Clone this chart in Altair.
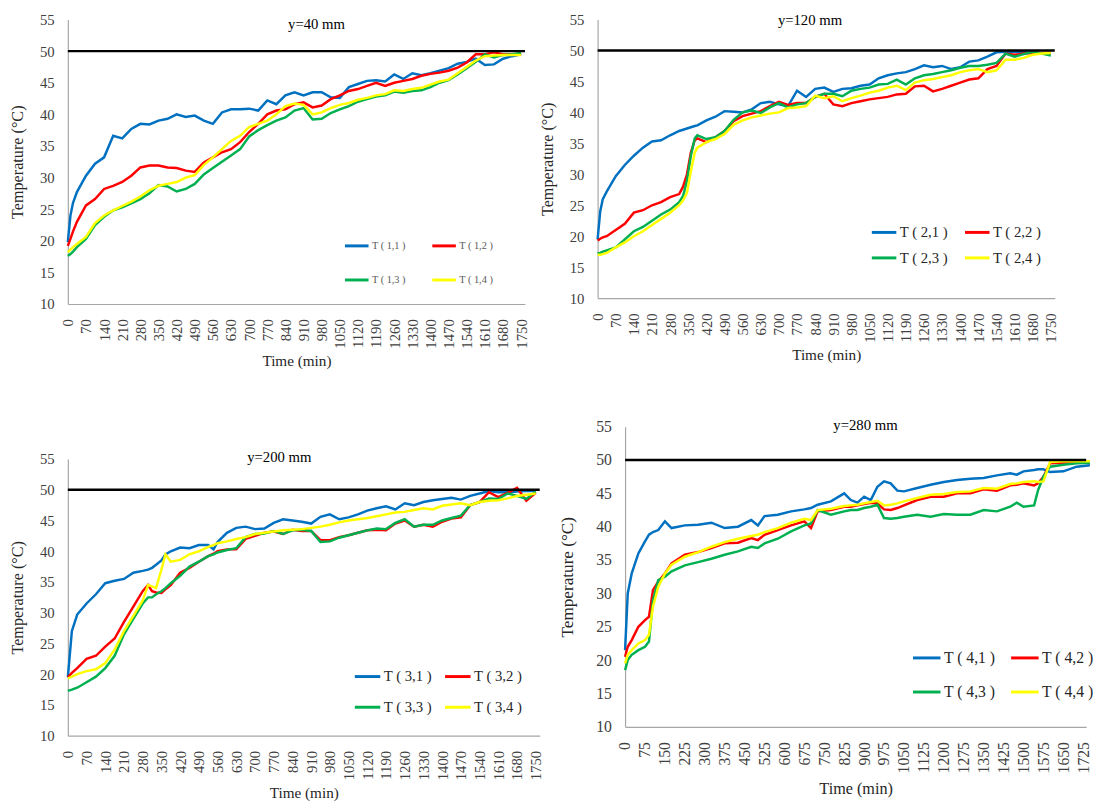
import altair as alt
import pandas as pd

FONT = "Liberation Serif"
COLORS = ["#0070C0", "#FF0000", "#00B050", "#FFFF00"]

# ---------------- Panel 1 : y=40 mm ----------------
P1_TIME = [0, 10, 20,
           35, 70, 105, 140, 175, 210, 245, 280, 315, 350,
           385, 420, 455, 490, 525, 560, 595, 630, 665, 700,
           735, 770, 805, 840, 875, 910, 945, 980, 1015, 1050,
           1085, 1120, 1155, 1190, 1225, 1260, 1295, 1330, 1365, 1400,
           1435, 1470, 1505, 1540, 1575, 1610, 1645, 1680, 1715, 1750]
T11 = [19.8, 24.0, 26.0,
       27.7, 30.3, 32.2, 33.2, 36.6, 36.2, 37.7, 38.5, 38.4, 39.0,
       39.3, 40.0, 39.6, 39.8, 39.0, 38.5, 40.3, 40.8, 40.8, 40.9,
       40.6, 42.2, 41.6, 43.0, 43.5, 43.0, 43.5, 43.5, 42.7, 42.6,
       44.3, 44.8, 45.3, 45.4, 45.2, 46.3, 45.6, 46.5, 46.2, 46.5,
       46.9, 47.3, 48.0, 48.3, 48.8, 47.8, 47.9, 48.8, 49.2, 49.5]
T12 = [19.2, 20.3, 21.5,
       23.0, 25.6, 26.6, 28.2, 28.7, 29.3, 30.3, 31.6, 31.9, 31.9,
       31.6, 31.5, 31.1, 30.9, 32.4, 33.2, 34.0, 34.5, 35.6, 37.2,
       38.5, 40.0, 40.6, 40.8, 41.6, 41.9, 41.1, 41.4, 42.4, 43.0,
       43.7, 44.0, 44.5, 45.0, 44.5, 45.0, 45.3, 45.6, 46.1, 46.4,
       46.6, 46.9, 47.4, 48.2, 49.5, 49.5, 49.8, 49.5, 49.5, 49.5]
T13 = [17.6, 17.9, 18.3,
       19.0, 20.3, 22.5, 23.8, 24.8, 25.3, 25.9, 26.6, 27.5, 28.8,
       28.6, 27.8, 28.2, 29.0, 30.5, 31.5, 32.5, 33.5, 34.5, 36.5,
       37.5, 38.3, 39.0, 39.5, 40.6, 41.0, 39.2, 39.3, 40.2, 40.8,
       41.3, 42.0, 42.4, 42.8, 43.0, 43.6, 43.4, 43.7, 43.8, 44.3,
       45.0, 45.4, 46.3, 47.3, 48.3, 49.5, 49.0, 49.4, 49.5, 49.7]
T14 = [18.2, 18.6, 19.0,
       19.5, 20.6, 22.8, 24.0, 24.8, 25.5, 26.2, 27.0, 28.0, 28.7,
       29.0, 29.3, 30.0, 30.4, 32.0, 33.2, 34.5, 35.8, 36.6, 38.0,
       38.5, 39.0, 40.0, 41.3, 41.7, 41.5, 40.0, 40.3, 41.0, 41.5,
       41.8, 42.3, 42.6, 43.0, 43.2, 43.8, 43.7, 44.0, 44.2, 44.7,
       45.2, 45.5, 46.5, 47.5, 48.5, 49.2, 49.3, 49.4, 49.4, 49.4]

# ---------------- Panel 2 : y=120 mm ----------------
P2_TIME = [0, 10, 20,
           35, 70, 105, 140, 175, 210, 245, 280, 315,
           330, 345, 360, 375, 385,
           420, 455, 490, 525, 560, 595, 630, 665, 700, 735,
           770, 805, 840, 875, 910, 945, 980, 1015, 1050, 1085,
           1120, 1155, 1190, 1225, 1260, 1295, 1330, 1365, 1400, 1435,
           1470, 1505, 1540, 1575, 1610, 1645, 1680, 1715, 1750]
T21 = [19.5, 24.0, 26.0,
       27.2, 29.7, 31.5, 33.0, 34.3, 35.3, 35.5, 36.3, 37.0,
       37.2, 37.4, 37.6, 37.8, 37.9,
       38.7, 39.3, 40.2, 40.1, 40.0, 40.5, 41.5, 41.7, 41.3, 41.0,
       43.5, 42.5, 43.8, 44.0, 43.3, 43.8, 43.9, 44.3, 44.5, 45.5,
       46.0, 46.3, 46.5, 47.0, 47.6, 47.3, 47.5, 47.0, 47.3, 48.2,
       48.4, 49.0, 49.7, 49.8, 49.8, 49.7, 49.6, 49.5, 49.6]
T22 = [19.3, 19.6, 19.8,
       20.0, 21.0, 22.0, 23.8, 24.2, 25.0, 25.5, 26.3, 26.8,
       28.0, 30.0, 33.5, 35.5, 35.8,
       35.2, 36.0, 37.0, 38.6, 39.4, 39.8, 40.2, 41.0, 41.7, 41.2,
       41.5, 41.5, 42.5, 43.0, 41.3, 41.0, 41.5, 41.8, 42.1, 42.3,
       42.5, 42.9, 43.0, 44.2, 44.3, 43.4, 43.8, 44.3, 44.8, 45.3,
       45.5, 47.0, 47.5, 49.5, 49.3, 49.5, 49.6, 49.6, 49.6]
T23 = [17.2, 17.3, 17.5,
       17.7, 18.2, 19.5, 20.8, 21.5, 22.5, 23.5, 24.3, 25.5,
       26.5, 29.0, 33.0, 35.8, 36.3,
       35.7, 36.0, 37.0, 38.8, 40.0, 40.3, 39.9, 40.8, 41.5, 40.8,
       41.3, 41.5, 42.5, 43.0, 43.0, 42.6, 43.5, 43.8, 44.0, 44.5,
       44.6, 45.3, 44.5, 45.5, 46.0, 46.2, 46.5, 46.8, 47.2, 47.5,
       47.5, 47.7, 48.0, 49.5, 49.0, 49.4, 49.8, 49.5, 49.2]
T24 = [17.0, 17.0, 17.1,
       17.3, 18.2, 19.0, 20.0, 20.8, 21.8, 22.8, 23.8, 25.0,
       25.8, 27.0, 30.5, 33.5, 34.3,
       35.2, 35.7, 36.5, 38.0, 38.7, 39.2, 39.5, 39.8, 40.0, 40.7,
       40.8, 41.0, 42.7, 42.3, 42.6, 41.8, 42.3, 42.7, 43.2, 43.5,
       44.0, 44.3, 43.6, 44.8, 45.2, 45.4, 45.7, 46.0, 46.5, 46.8,
       47.0, 46.5, 46.8, 48.5, 48.5, 48.8, 49.3, 49.5, 49.6]

# ---------------- Panel 3 : y=200 mm ----------------
P3_TIME = [0, 15,
           35, 70, 105, 140, 175, 210, 245, 280,
           300, 315, 330, 350, 365,
           385, 420, 455, 490, 525, 545,
           560, 595, 630, 665, 700, 735, 770, 805, 840, 875,
           910, 945, 980, 1015, 1050, 1085, 1120, 1155, 1190, 1225,
           1260, 1295, 1330, 1365, 1400, 1435, 1470, 1505, 1540, 1575,
           1610, 1645, 1680, 1715, 1750]
T31 = [19.5, 27.0,
       29.7, 31.5, 33.0, 34.8, 35.2, 35.5, 36.5, 36.8,
       37.0, 37.3, 37.8, 38.5, 39.5,
       40.0, 40.6, 40.5, 41.0, 41.0, 40.3,
       41.5, 43.0, 43.8, 44.0, 43.6, 43.7, 44.6, 45.2, 45.0, 44.8,
       44.5, 45.6, 46.0, 45.2, 45.5, 46.0, 46.6, 47.0, 47.3, 46.8,
       47.8, 47.5, 48.0, 48.3, 48.5, 48.7, 48.4, 49.0, 49.4, 49.8,
       49.6, 49.6, 49.7, 49.8, 49.8]
T32 = [19.5, 20.2,
       21.0, 22.5, 23.0, 24.5, 25.8, 28.5, 31.0, 33.5,
       34.5, 33.5, 33.3, 33.2, 33.8,
       34.5, 36.5, 37.3, 38.3, 39.2, 39.6,
       40.0, 40.3, 40.3, 42.0, 42.5, 43.0, 43.2, 42.8, 43.5, 43.3,
       43.3, 41.8, 41.8, 42.3, 42.6, 43.0, 43.4, 43.5, 43.4, 44.5,
       45.0, 44.0, 44.3, 44.0, 44.8, 45.3, 45.5, 47.5, 48.0, 49.6,
       48.8, 49.5, 50.3, 48.2, 49.5]
T33 = [17.3, 17.5,
       17.8, 18.7, 19.6, 21.0, 23.0, 26.5, 29.0, 31.5,
       32.5, 32.5, 33.0, 33.5, 34.0,
       34.8, 36.0, 37.5, 38.3, 39.2, 39.5,
       39.8, 40.2, 40.5, 42.3, 42.8, 42.9, 43.3, 42.8, 43.4, 43.5,
       43.3, 41.5, 41.6, 42.2, 42.6, 43.0, 43.4, 43.7, 43.6, 44.6,
       45.2, 44.0, 44.3, 44.3, 45.0, 45.4, 45.8, 47.5, 48.0, 48.6,
       48.5, 49.4, 49.0, 48.5, 49.7]
T34 = [19.3, 19.6,
       20.0, 20.5, 20.8, 21.8, 24.0, 27.0, 29.5, 32.0,
       34.5, 34.3, 34.0, 37.0, 39.5,
       38.3, 38.6, 39.5, 40.0, 40.7, 41.0,
       41.3, 41.6, 42.0, 42.3, 42.8, 43.0, 43.2, 43.4, 43.5, 43.6,
       43.8, 44.0, 44.3, 44.7, 45.0, 45.2, 45.4, 45.7, 46.0, 46.3,
       46.4, 46.7, 47.0, 46.8, 47.4, 47.6, 47.8, 47.5, 48.0, 48.2,
       48.3, 48.6, 49.0, 49.2, 49.4]

# ---------------- Panel 4 : y=280 mm ----------------
P4_TIME = [0, 10, 25, 50, 75, 90, 105, 125, 150, 175,
           225, 275, 325, 375, 425, 475, 500, 525, 575, 625,
           675, 700, 725, 775, 825, 850, 875, 900, 925, 950,
           975, 1000, 1025, 1050, 1100, 1150, 1200, 1250, 1300, 1350,
           1400, 1450, 1475, 1500, 1540, 1555, 1575, 1600, 1650, 1700,
           1750]
T41 = [21.5, 30.0, 33.0, 36.0, 37.8, 38.8, 39.2, 39.5, 40.8, 39.8,
       40.2, 40.3, 40.6, 39.8, 40.0, 41.0, 40.2, 41.6, 41.8, 42.3,
       42.6, 42.8, 43.3, 43.8, 45.0, 44.0, 43.6, 44.5, 44.0, 46.0,
       46.8, 46.5, 45.4, 45.3, 45.8, 46.3, 46.7, 47.0, 47.2, 47.3,
       47.7, 48.0, 47.8, 48.3, 48.5, 48.6, 48.6, 48.2, 48.3, 49.0,
       49.2]
T42 = [20.5, 22.0, 23.0, 25.0, 26.0, 26.5, 30.5, 31.8, 33.0, 34.5,
       35.8, 36.2, 36.8, 37.5, 37.6, 38.3, 38.0, 38.8, 39.5, 40.2,
       40.8, 39.8, 42.3, 42.5, 43.0, 43.0, 43.2, 43.4, 43.6, 43.5,
       42.6, 42.5, 42.8, 43.2, 44.0, 44.5, 44.5, 45.0, 45.0, 45.6,
       45.4, 46.2, 46.3, 46.5, 46.2, 46.5, 47.5, 49.5, 49.6, 49.7,
       49.7]
T43 = [18.5, 20.0, 20.8, 21.5, 22.0, 22.8, 29.0, 32.0, 32.5, 33.3,
       34.2, 34.7, 35.2, 35.8, 36.3, 37.0, 36.8, 37.5, 38.2, 39.3,
       40.2, 40.5, 42.5, 41.8, 42.3, 42.5, 42.5, 42.8, 43.0, 43.3,
       41.3, 41.2, 41.3, 41.5, 41.8, 41.5, 41.9, 41.8, 41.8, 42.5,
       42.3, 43.0, 43.6, 43.0, 43.2, 45.5, 47.5, 49.0, 49.3, 49.5,
       49.6]
T44 = [19.5, 20.8, 21.5, 22.5, 23.0, 23.8, 28.0, 31.0, 33.0, 34.3,
       35.5, 36.2, 37.0, 37.7, 38.2, 38.6, 38.8, 39.2, 39.8, 40.6,
       41.2, 41.0, 42.5, 42.7, 43.1, 43.2, 43.3, 43.5, 43.7, 43.9,
       43.2, 43.3, 43.5, 43.8, 44.3, 44.8, 44.9, 45.2, 45.3, 45.8,
       45.7, 46.4, 46.5, 46.7, 46.8, 46.7, 46.8, 49.7, 49.8, 49.8,
       49.8]

Y_TICKS = [10, 15, 20, 25, 30, 35, 40, 45, 50, 55]
X_TICKS_70 = [0, 70, 140, 210, 280, 350, 420, 490, 560, 630, 700, 770, 840,
              910, 980, 1050, 1120, 1190, 1260, 1330, 1400, 1470, 1540,
              1610, 1680, 1750]
X_TICKS_75 = [0, 75, 150, 225, 300, 375, 450, 525, 600, 675, 750, 825, 900,
              975, 1050, 1125, 1200, 1275, 1350, 1425, 1500, 1575, 1650, 1725]
LIMIT = 50


def panel(times, series, names, title, title_at, width, height, yrange,
          xmax, xticks, fs, leg):
    rows = []
    for name, vals in zip(names, series):
        for t, v in zip(times, vals):
            rows.append({"t": t, "T": v, "s": name})
    df = pd.DataFrame(rows)

    xaxis = alt.Axis(values=xticks, format="d", labelAngle=-90,
                     labelFlush=False, labelOverlap=False,
                     ticks=False, tickSize=0, labelPadding=15,
                     grid=False, labelFont=FONT,
                     labelFontSize=fs["xlab"], titleFont=FONT,
                     titleFontSize=fs["xtitle"], titlePadding=fs["xpad"])
    yaxis = alt.Axis(values=Y_TICKS, format="d", labelFlush=False,
                     labelOverlap=False, ticks=False, tickSize=0,
                     labelPadding=14, grid=False, labelFont=FONT,
                     labelFontSize=fs["ylab"], titleFont=FONT,
                     titleFontSize=fs["ytitle"], titlePadding=fs["ypad"])
    xscale = alt.Scale(domain=[0, xmax], nice=False, zero=False)
    if yrange is not None:
        yscale = alt.Scale(domain=[10, 55], nice=False, zero=False,
                           range=yrange)
    else:
        yscale = alt.Scale(domain=[10, 55], nice=False, zero=False)
    x = alt.X("t:Q", title="Time (min)", scale=xscale, axis=xaxis)
    y = alt.Y("T:Q", title="Temperature (\u00b0C)", scale=yscale, axis=yaxis)

    color = alt.Color("s:N", title=None,
                      scale=alt.Scale(domain=names, range=COLORS),
                      legend=alt.Legend(orient="none", columns=2,
                                        direction="horizontal",
                                        legendX=leg["x"], legendY=leg["y"],
                                        symbolType="stroke",
                                        symbolStrokeWidth=3,
                                        symbolSize=leg["size"],
                                        labelFont=FONT,
                                        labelFontSize=leg["fs"],
                                        labelColor=leg["color"],
                                        labelOffset=2,
                                        rowPadding=leg["rp"],
                                        columnPadding=leg["cp"],
                                        padding=0))
    lines = alt.Chart(df).mark_line(strokeWidth=2.5).encode(
        x=x, y=y, color=color, order="t:Q")
    rule = alt.Chart(pd.DataFrame({"T": [LIMIT]})).mark_rule(
        color="black", strokeWidth=2.5).encode(y=y)
    head = alt.Chart(pd.DataFrame({"t": [title_at[0]], "T": [title_at[1]],
                                   "label": [title]})).mark_text(
        font=FONT, fontSize=15, color="#000000", align="center",
        baseline="middle").encode(x=x, y=y, text="label:N")
    return alt.layer(lines, rule, head).properties(width=width, height=height)


FS13 = {"xlab": 15, "ylab": 15, "xtitle": 15.5, "ytitle": 16.5,
        "xpad": 6, "ypad": 14}
FS4 = {"xlab": 16, "ylab": 16, "xtitle": 16.5, "ytitle": 17.5,
       "xpad": 8, "ypad": 20}

p1 = panel(P1_TIME, [T11, T12, T13, T14],
           ["T ( 1,1 )", "T ( 1,2 )", "T ( 1,3 )", "T ( 1,4 )"],
           "y=40 mm", (960, 54.3), 466, 290, None, 1765, X_TICKS_70, FS13,
           {"x": 281, "y": 217, "size": 576, "fs": 10.5, "color": "#595959",
            "rp": 15, "cp": 20})
p2 = panel(P2_TIME, [T21, T22, T23, T24],
           ["T ( 2,1 )", "T ( 2,2 )", "T ( 2,3 )", "T ( 2,4 )"],
           "y=120 mm", (820, 54.9), 466, 284, None, 1765, X_TICKS_70, FS13,
           {"x": 278, "y": 203, "size": 625, "fs": 15, "color": "#262626",
            "rp": 4, "cp": 10})
p3 = panel(P3_TIME, [T31, T32, T33, T34],
           ["T ( 3,1 )", "T ( 3,2 )", "T ( 3,3 )", "T ( 3,4 )"],
           "y=200 mm", (791, 55.3), 481, 315, [315, 33], 1765, X_TICKS_70,
           FS13,
           {"x": 291, "y": 240, "size": 676, "fs": 15, "color": "#262626",
            "rp": 8.5, "cp": 6})
p4 = panel(P4_TIME, [T41, T42, T43, T44],
           ["T ( 4,1 )", "T ( 4,2 )", "T ( 4,3 )", "T ( 4,4 )"],
           "y=280 mm", (905, 55.3), 470, 306, None, 1736, X_TICKS_75, FS4,
           {"x": 292, "y": 220, "size": 784, "fs": 16, "color": "#262626",
            "rp": 11, "cp": 9})

row1 = alt.hconcat(p1, p2, spacing=10).resolve_scale(color="independent")
row2 = alt.hconcat(p3, p4, spacing=15).resolve_scale(color="independent")

chart = alt.vconcat(row1, row2, spacing=48).resolve_scale(
    color="independent"
).properties(
    padding={"left": 2, "top": -3, "right": 0, "bottom": 0},
    background="white"
).configure_view(
    stroke=None
).configure_axis(
    labelFont=FONT, titleFont=FONT, labelColor="#404040",
    titleColor="#262626", titleFontWeight="normal",
    domainColor="#a6a6a6", domainWidth=1.2
)

chart.save("out.html", embed_options={"renderer": "svg", "actions": False})
